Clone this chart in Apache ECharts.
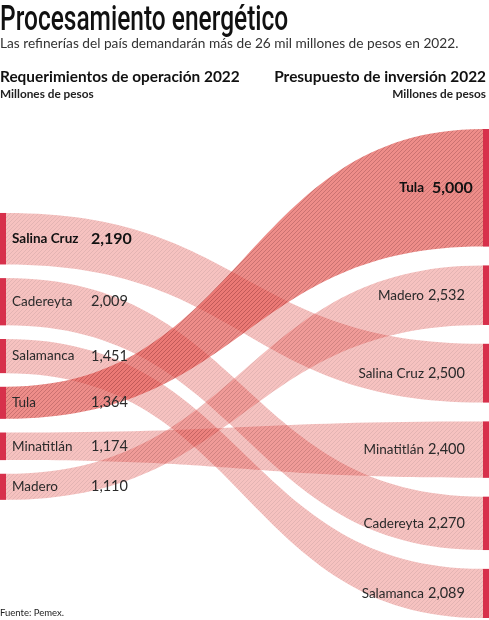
<!DOCTYPE html>
<html>
<head>
<meta charset="utf-8">
<script src="https://cdn.jsdelivr.net/npm/echarts@6/dist/echarts.min.js"></script>
<style>
  html, body { margin: 0; padding: 0; background: #fff; }
  #chart { width: 489px; height: 620px; }
</style>
</head>
<body>
<div id="chart"></div>
<script>
// Requerimientos de operación 2022 (lado izquierdo)
const refineriasOperacion = ['Salina Cruz', 'Cadereyta', 'Salamanca', 'Tula', 'Minatitlán', 'Madero']
const operacion = [2190, 2009, 1451, 1364, 1174, 1110]

// Presupuesto de inversión 2022 (lado derecho)
const refineriasInversion = ['Tula', 'Madero', 'Salina Cruz', 'Minatitlán', 'Cadereyta', 'Salamanca']
const inversion = [5000, 2532, 2500, 2400, 2270, 2089]

// separaciones en unidades del eje (millones de pesos)
const GAP_IZQ = 580
const GAP_DER = 800
const INICIO_IZQ = 3570
const ANCHO_BARRA = 6
const ROJO = '#d7304b'
const FUENTE = 'Lato, "Open Sans", sans-serif'

function apilar(valores, inicio, gap) {
  let y = inicio
  return valores.map(v => {
    const r = [y, y + v]
    y += v + gap
    return r
  })
}

const posIzq = apilar(operacion, INICIO_IZQ, GAP_IZQ)
const posDer = apilar(inversion, 0, GAP_DER)
const yMax = posDer[posDer.length - 1][1]
const maxInversion = Math.max(...inversion)
const maxOperacion = Math.max(...operacion)

// enlaces: [izqArriba, izqAbajo, derArriba, derAbajo, resaltado]
const enlaces = refineriasOperacion.map((nombre, i) => {
  const j = refineriasInversion.indexOf(nombre)
  return [posIzq[i][0], posIzq[i][1], posDer[j][0], posDer[j][1], inversion[j] === maxInversion ? 1 : 0]
})
enlaces.sort((a, b) => a[4] - b[4]) // el resaltado va encima

// trama de rayas diagonales
function crearTrama() {
  const n = 4
  const c = document.createElement('canvas')
  c.width = n
  c.height = n
  const ctx = c.getContext('2d')
  ctx.fillStyle = 'rgb(230,88,82)'
  ctx.fillRect(0, 0, n, n)
  ctx.strokeStyle = 'rgb(165,38,38)'
  ctx.lineWidth = 0.8
  ctx.beginPath()
  ctx.moveTo(0, n)
  ctx.lineTo(n, 0)
  ctx.moveTo(-1, 1)
  ctx.lineTo(1, -1)
  ctx.moveTo(n - 1, n + 1)
  ctx.lineTo(n + 1, n - 1)
  ctx.stroke()
  return c
}
const trama = { image: crearTrama(), repeat: 'repeat' }

const fmt = v => v.toLocaleString('en-US')

function renderEnlace(params, api) {
  const a = api.coord([0, api.value(0)])
  const b = api.coord([0, api.value(1)])
  const c = api.coord([1, api.value(2)])
  const d = api.coord([1, api.value(3)])
  const x0 = a[0] + ANCHO_BARRA
  const x1 = c[0] - ANCHO_BARRA
  const xm = (x0 + x1) / 2
  const path = `M${x0},${a[1]}C${xm},${a[1]} ${xm},${c[1]} ${x1},${c[1]}` +
    `L${x1},${d[1]}C${xm},${d[1]} ${xm},${b[1]} ${x0},${b[1]}Z`
  return {
    type: 'path',
    shape: { pathData: path },
    style: { fill: trama, opacity: api.value(4) ? 0.68 : 0.36 }
  }
}

function renderNodo(lado, nombres, valores, maximo) {
  return function (params, api) {
    const i = params.dataIndex
    const p0 = api.coord([lado, api.value(0)])
    const p1 = api.coord([lado, api.value(1)])
    const yc = (p0[1] + p1[1]) / 2
    const x = lado === 0 ? p0[0] : p0[0] - ANCHO_BARRA
    const negrita = valores[i] === maximo
    const colorTxt = negrita ? '#111' : '#2a2a2a'
    const nombre = {
      type: 'text',
      x: lado === 0 ? 12 : p0[0] - 65,
      y: yc,
      style: {
        text: nombres[i],
        fill: colorTxt,
        align: lado === 0 ? 'left' : 'right',
        verticalAlign: 'middle',
        font: `${negrita ? 'bold ' : ''}13.5px ${FUENTE}`
      }
    }
    const valor = {
      type: 'text',
      x: lado === 0 ? 91 : p0[0] - (negrita ? 57 : 61),
      y: yc,
      style: {
        text: fmt(valores[i]),
        fill: colorTxt,
        align: 'left',
        verticalAlign: 'middle',
        font: `${negrita ? 'bold 16px' : '14.5px'} ${FUENTE}`
      }
    }
    return {
      type: 'group',
      children: [
        { type: 'rect', shape: { x: x, y: p0[1], width: ANCHO_BARRA, height: p1[1] - p0[1] }, style: { fill: ROJO } },
        nombre,
        valor
      ]
    }
  }
}

const chart = echarts.init(document.getElementById('chart'), null, { renderer: 'canvas' })

chart.setOption({
  backgroundColor: '#fff',
  animation: false,
  grid: { left: 0, right: 0, top: 129, bottom: 2 },
  xAxis: { type: 'value', min: 0, max: 1, show: false },
  yAxis: { type: 'value', min: 0, max: yMax, inverse: true, show: false },
  graphic: [
    {
      type: 'text', x: 0, y: 21, scaleX: 0.7,
      style: { text: 'Procesamiento energético', fill: '#111', font: '500 35px Roboto, sans-serif', verticalAlign: 'middle' }
    },
    {
      type: 'text', x: 0, y: 44,
      style: { text: 'Las refinerías del país demandarán más de 26 mil millones de pesos en 2022.', fill: '#333', font: `13.7px ${FUENTE}`, verticalAlign: 'middle' }
    },
    {
      type: 'text', x: 0, y: 77,
      style: { text: 'Requerimientos de operación 2022', fill: '#111', font: `bold 15.4px ${FUENTE}`, verticalAlign: 'middle' }
    },
    {
      type: 'text', x: 0, y: 94,
      style: { text: 'Millones de pesos', fill: '#222', font: `bold 11.8px ${FUENTE}`, verticalAlign: 'middle' }
    },
    {
      type: 'text', x: 486, y: 77,
      style: { text: 'Presupuesto de inversión 2022', fill: '#111', font: `bold 15.4px ${FUENTE}`, align: 'right', verticalAlign: 'middle' }
    },
    {
      type: 'text', x: 486, y: 94,
      style: { text: 'Millones de pesos', fill: '#222', font: `bold 11.8px ${FUENTE}`, align: 'right', verticalAlign: 'middle' }
    },
    {
      type: 'text', x: 0, y: 613,
      style: { text: 'Fuente: Pemex.', fill: '#222', font: `9.5px ${FUENTE}`, verticalAlign: 'middle' }
    }
  ],
  series: [
    {
      type: 'custom',
      coordinateSystem: 'cartesian2d',
      renderItem: renderEnlace,
      data: enlaces,
      silent: true,
      z: 1
    },
    {
      type: 'custom',
      coordinateSystem: 'cartesian2d',
      renderItem: renderNodo(0, refineriasOperacion, operacion, maxOperacion),
      data: posIzq,
      silent: true,
      z: 2
    },
    {
      type: 'custom',
      coordinateSystem: 'cartesian2d',
      renderItem: renderNodo(1, refineriasInversion, inversion, maxInversion),
      data: posDer,
      silent: true,
      z: 2
    }
  ]
})
</script>
</body>
</html>
